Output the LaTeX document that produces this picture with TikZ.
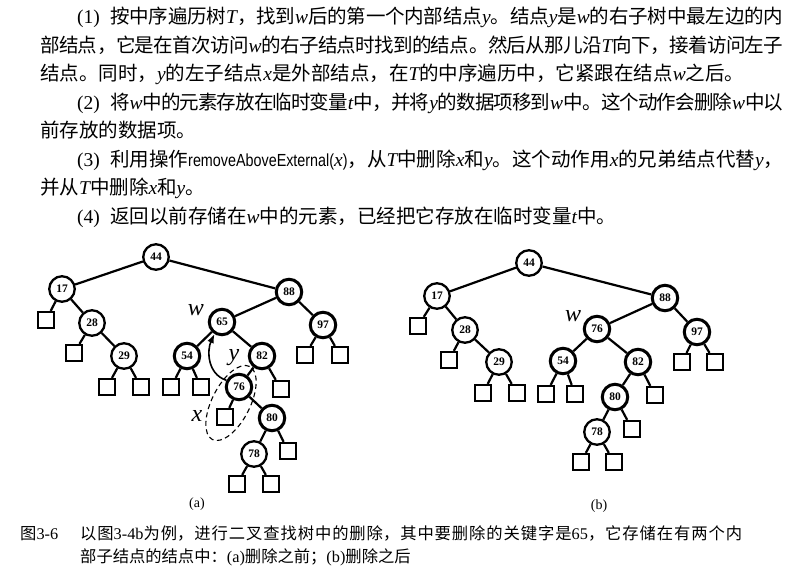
\documentclass[tikz,border=0pt]{standalone}
\usepackage{graphicx}
\usepackage{fontspec}
\setmainfont{Liberation Serif}
\newfontfamily\cjk{Noto Sans CJK SC}
\newfontfamily\sansf{Liberation Sans}
\usetikzlibrary{arrows.meta,shapes.geometric}

% allow stretchable breaks between CJK characters so full lines can be justified
\XeTeXlinebreaklocale "zh"
\XeTeXlinebreakskip=0pt plus 3pt minus 2pt

\newcommand\iv[1]{{\rmfamily\itshape #1}}
\newcommand\tm[1]{{\rmfamily #1}}
\newcommand\sfw[1]{\scalebox{0.82}[1]{\sansf\fontsize{17.5}{20}\selectfont #1}}
\newcommand\jline[2]{\parbox[b]{#1}{\parfillskip=0pt\noindent #2}}
\newcommand\pnum[1]{\makebox[33pt][l]{\tm{#1}}}

\tikzset{
  body/.style={anchor=base west, inner sep=0pt, font=\cjk\fontsize{19.5}{24}\selectfont},
  capt/.style={anchor=base west, inner sep=0pt, font=\cjk\fontsize{16.3}{20}\selectfont},
  inode/.style={circle, draw, line width=2.3pt, minimum size=25.5pt, inner sep=0pt,
    font=\fontsize{11.5}{11.5}\selectfont\bfseries},
  inodeb/.style={inode, line width=3pt},
  enode/.style={rectangle, draw, line width=2.2pt, minimum size=16pt, inner sep=0pt},
  branch/.style={line width=2.2pt},
  vlabel/.style={inner sep=0pt, font=\fontsize{24}{24}\selectfont\itshape},
  sublabel/.style={inner sep=0pt, font=\fontsize{14}{14}\selectfont},
}

\begin{document}
\begin{tikzpicture}[x=1pt,y=-1pt]
\useasboundingbox (0,0) rectangle (796,574);
\fill[white] (0,0) rectangle (796,574);

% ---- explanatory text ----
\node[body] (t1) at (77,23.5) {\jline{706pt}{\pnum{(1)}按中序遍历树\iv{T}，找到\iv{w}后的第一个内部结点\iv{y}。结点\iv{y}是\iv{w}的右子树中最左边的内}};
\node[body] (t2) at (40,52) {\jline{743pt}{部结点，它是在首次访问\iv{w}的右子结点时找到的结点。然后从那儿沿\iv{T}向下，接着访问左子}};
\node[body] (t3) at (40,80.5) {结点。同时，\iv{y}的左子结点\iv{x}是外部结点，在\iv{T}的中序遍历中，它紧跟在结点\iv{w}之后。};
\node[body] (t4) at (77,109) {\jline{706pt}{\pnum{(2)}将\iv{w}中的元素存放在临时变量\iv{t}中，并将\iv{y}的数据项移到\iv{w}中。这个动作会删除\iv{w}中以}};
\node[body] (t5) at (40,137.5) {前存放的数据项。};
\node[body] (t6) at (77,166) {\jline{706pt}{\pnum{(3)}利用操作\sfw{removeAboveExternal(}\iv{x}\sfw{)}，从\iv{T}中删除\iv{x}和\iv{y}。这个动作用\iv{x}的兄弟结点代替\iv{y}，}};
\node[body] (t7) at (40,194.5) {并从\iv{T}中删除\iv{x}和\iv{y}。};
\node[body] (t8) at (77,223) {\pnum{(4)}返回以前存储在\iv{w}中的元素，已经把它存放在临时变量\iv{t}中。};

% ---- tree (a): before deletion ----
\node[inode]  (a44) at (156,257) {44};
\node[inode]  (a17) at (62,289) {17};
\node[inodeb] (a88) at (289,292) {88};
\node[enode]  (aE1) at (46,320) {};
\node[inode]  (a28) at (92,323) {28};
\node[inodeb] (a65) at (222,322) {65};
\node[inodeb] (a97) at (323,325) {97};
\node[enode]  (aE2) at (74,353) {};
\node[inode]  (a29) at (124,356) {29};
\node[inodeb] (a54) at (187,356) {54};
\node[inodeb] (a82) at (262,356) {82};
\node[enode]  (aE12) at (305,355) {};
\node[enode]  (aE13) at (340,355) {};
\node[enode]  (aE3) at (107,387) {};
\node[enode]  (aE4) at (141,387) {};
\node[enode]  (aE5) at (171,387) {};
\node[enode]  (aE6) at (201,387) {};
\node[inodeb] (a76) at (239,387) {76};
\node[enode]  (aE7) at (281,389) {};
\node[enode]  (aE8) at (225,417) {};
\node[inodeb] (a80) at (272,418) {80};
\node[enode]  (aE9) at (288,451) {};
\node[inode]  (a78) at (254,454) {78};
\node[enode]  (aE10) at (237,484) {};
\node[enode]  (aE11) at (271,484) {};

\foreach \p/\c in {a44/a17, a44/a88, a17/aE1, a17/a28, a28/aE2, a28/a29, a29/aE3, a29/aE4,
                   a88/a65, a88/a97, a65/a54, a65/a82, a54/aE5, a54/aE6, a82/a76, a82/aE7,
                   a76/aE8, a76/a80, a80/a78, a80/aE9, a78/aE10, a78/aE11, a97/aE12, a97/aE13}
  \draw[branch] (\p) -- (\c);

\node[vlabel] (aw) at (196,310) {w};
\node[vlabel] (ay) at (234,358) {y};
\node[vlabel] (ax) at (197,416) {x};
\node[draw, dashed, ellipse, line width=1.1pt, dash pattern=on 5pt off 3.5pt,
      minimum width=82pt, minimum height=38pt, rotate=63] (sel) at (231,403) {};
\draw[line width=1.6pt, -{Latex[length=9pt,width=7pt]}]
  (a76.152) .. controls (207,374) and (207,350) .. (a65.238);
\node[sublabel] (la) at (197,504) {(a)};

% ---- tree (b): after deletion ----
\node[inode]  (b44) at (529,263) {44};
\node[inode]  (b17) at (437,296) {17};
\node[inodeb] (b88) at (665,298) {88};
\node[enode]  (bE1) at (418,326) {};
\node[inode]  (b28) at (465,330) {28};
\node[inodeb] (b76) at (597,329) {76};
\node[inodeb] (b97) at (697,332) {97};
\node[enode]  (bE2) at (449,360) {};
\node[inode]  (b29) at (499,362) {29};
\node[inodeb] (b54) at (563,361) {54};
\node[inodeb] (b82) at (638,362) {82};
\node[enode]  (bE11) at (682,362) {};
\node[enode]  (bE12) at (715,362) {};
\node[enode]  (bE3) at (483,393) {};
\node[enode]  (bE4) at (517,393) {};
\node[enode]  (bE5) at (546,394) {};
\node[enode]  (bE6) at (575,394) {};
\node[inodeb] (b80) at (615,397) {80};
\node[enode]  (bE7) at (655,395) {};
\node[inode]  (b78) at (597,432) {78};
\node[enode]  (bE8) at (632,429) {};
\node[enode]  (bE9) at (581,462) {};
\node[enode]  (bE10) at (614,462) {};

\foreach \p/\c in {b44/b17, b44/b88, b17/bE1, b17/b28, b28/bE2, b28/b29, b29/bE3, b29/bE4,
                   b88/b76, b88/b97, b76/b54, b76/b82, b54/bE5, b54/bE6, b82/b80, b82/bE7,
                   b80/b78, b80/bE8, b78/bE9, b78/bE10, b97/bE11, b97/bE12}
  \draw[branch] (\p) -- (\c);

\node[vlabel] (bw) at (573,316) {w};
\node[sublabel] (lb) at (599,506) {(b)};

% ---- caption ----
\node[capt] (c0) at (20,539) {图\tm{3-6}};
\node[capt] (c1) at (80,539) {\jline{662pt}{以图\tm{3-4b}为例，进行二叉查找树中的删除，其中要删除的关键字是\tm{65}，它存储在有两个内}};
\node[capt] (c2) at (80,562) {部子结点的结点中：\tm{(a)}删除之前；\tm{(b)}删除之后};
\end{tikzpicture}
\end{document}
